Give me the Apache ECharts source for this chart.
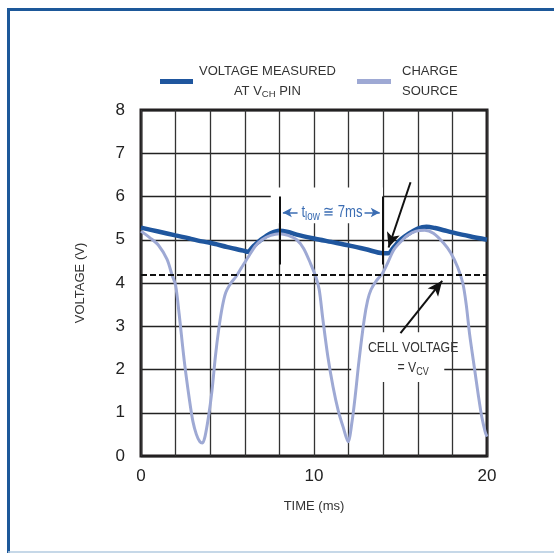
<!DOCTYPE html>
<html><head><meta charset="utf-8">
<script src="https://cdn.jsdelivr.net/npm/echarts@6/dist/echarts.min.js"></script>
<style>html,body{margin:0;padding:0;background:#fff}#c{width:554px;height:553px}</style>
</head><body><div id="c"></div>
<script>
// ---- data (time in ms, voltage in V) ----
const vchTime = [0, 1, 2, 2.8, 3.3, 4, 5, 6, 6.15, 6.5, 7.0, 7.5, 8.0, 8.5, 9, 10, 11, 12, 13, 14, 14.3, 14.6, 15, 15.5, 16, 16.5, 17, 17.5, 18, 19, 20];
const vchVolt = [5.28, 5.19, 5.1, 5.03, 4.98, 4.93, 4.83, 4.74, 4.72, 4.85, 5.02, 5.15, 5.21, 5.18, 5.12, 5.03, 4.95, 4.87, 4.78, 4.69, 4.69, 4.82, 5.0, 5.15, 5.26, 5.3, 5.27, 5.22, 5.17, 5.08, 5.0];
const srcTime = [0, 0.5, 1.0, 1.5, 1.8, 2.0, 2.2, 2.5, 2.8, 3.0, 3.2, 3.4, 3.55, 3.7, 3.9, 4.1, 4.3, 4.5, 4.7, 4.9, 5.2, 5.5, 5.8, 6.2, 6.6, 7.0, 7.5, 8.0, 8.5, 9.0, 9.4, 9.8, 10.1, 10.3, 10.5, 10.8, 11.1, 11.4, 11.7, 11.97, 12.2, 12.4, 12.6, 12.9, 13.1, 13.3, 13.6, 13.95, 14.3, 14.6, 15.0, 15.4, 15.9, 16.4, 16.9, 17.5, 17.9, 18.3, 18.6, 18.8, 19.0, 19.25, 19.5, 19.7, 19.9, 20];
const srcVolt = [5.2, 5.05, 4.88, 4.55, 4.18, 3.95, 3.3, 2.2, 1.3, 0.8, 0.5, 0.33, 0.3, 0.45, 0.9, 1.5, 2.3, 2.95, 3.45, 3.78, 4.0, 4.15, 4.35, 4.6, 4.85, 5.0, 5.1, 5.14, 5.1, 5.0, 4.8, 4.45, 4.15, 3.85, 3.2, 2.3, 1.6, 1.05, 0.65, 0.33, 0.8, 1.45, 2.2, 3.15, 3.6, 3.85, 4.05, 4.22, 4.5, 4.76, 4.95, 5.1, 5.2, 5.22, 5.15, 4.92, 4.7, 4.37, 4.0, 3.5, 2.8, 2.1, 1.4, 0.9, 0.55, 0.45];
const xTickLabels = ['0', '10', '20'];
const yTickLabels = ['0', '1', '2', '3', '4', '5', '6', '7', '8'];
const cellVoltage = 4.2;
const tlowMarks = [8, 14];

const FONT = "'Liberation Sans Narrow', 'Liberation Sans', Arial, sans-serif";
const TXT = '#333';
const DARK = '#1f569e';
const LIGHT = '#9ea9d4';
const NOTE = '#3b6db3';

const chart = echarts.init(document.getElementById('c'), null, {renderer: 'canvas'});
const zip = (a, b) => a.map((v, i) => [v, b[i]]);

chart.setOption({
  animation: false,
  backgroundColor: '#fff',
  grid: {left: 141, top: 110, width: 346, height: 346, show: true, borderColor: '#231f20', borderWidth: 3, backgroundColor: 'transparent'},
  legend: [
    {data: ['VOLTAGE MEASURED AT VCH PIN'], left: 160, top: 65, padding: 0, icon: 'rect', itemWidth: 33, itemHeight: 5,
     selectedMode: false,
     formatter: () => '{a|VOLTAGE MEASURED}\n{a|AT V}{s|CH}{a| PIN}',
     textStyle: {padding: [0, 0, 0, 1], rich: {
       a: {align: 'center', fontSize: 13, lineHeight: 20, fontFamily: FONT, color: TXT},
       s: {align: 'center', fontSize: 9.5, lineHeight: 20, fontFamily: FONT, color: TXT, padding: [6, 0, 0, 0]}}}},
    {data: ['CHARGE SOURCE'], left: 357, top: 65, padding: 0, icon: 'rect', itemWidth: 34, itemHeight: 5,
     selectedMode: false,
     formatter: () => '{a|CHARGE}\n{a|SOURCE}',
     textStyle: {padding: [0, 0, 0, 6], rich: {
       a: {align: 'center', fontSize: 13, lineHeight: 20, fontFamily: FONT, color: TXT}}}}
  ],
  xAxis: {
    type: 'value', min: 0, max: 20, interval: 2,
    name: 'TIME (ms)', nameLocation: 'middle', nameGap: 44,
    nameTextStyle: {fontFamily: FONT, fontSize: 13, color: TXT},
    axisLine: {show: false}, axisTick: {show: false},
    axisLabel: {margin: 12, fontFamily: FONT, fontSize: 17, color: '#222',
      formatter: v => xTickLabels.includes(String(v)) ? String(v) : ''},
    splitLine: {show: true, lineStyle: {color: '#333', width: 1.3}}
  },
  yAxis: {
    type: 'value', min: 0, max: 8, interval: 1,
    name: 'VOLTAGE (V)', nameLocation: 'middle', nameGap: 54,
    nameTextStyle: {fontFamily: FONT, fontSize: 13, color: TXT},
    axisLine: {show: false}, axisTick: {show: false},
    axisLabel: {margin: 16, fontFamily: FONT, fontSize: 17, color: '#222',
      formatter: v => yTickLabels[v] !== undefined ? yTickLabels[v] : ''},
    splitLine: {show: true, lineStyle: {color: '#222', width: 1.3}}
  },
  series: [
    {name: 'VOLTAGE MEASURED AT VCH PIN', type: 'line', data: zip(vchTime, vchVolt), showSymbol: false, smooth: 0.3,
     itemStyle: {color: DARK}, lineStyle: {color: DARK, width: 4.5}, z: 3,
     markLine: {silent: true, animation: false, label: {show: false},
       data: [
         [{coord: [15.58, 6.33], symbol: 'none'}, {coord: [14.31, 4.82], symbol: 'arrow', symbolSize: [10, 15]}],
         [{coord: [15.0, 2.84], symbol: 'none'}, {coord: [17.41, 4.05], symbol: 'arrow', symbolSize: [10, 15]}]
       ].map(d => { d.forEach(p => p.lineStyle = {color: '#111', width: 2, type: 'solid'}); return d; })
     }},
    {name: 'CHARGE SOURCE', type: 'line', data: zip(srcTime, srcVolt), showSymbol: false, smooth: 0.3,
     itemStyle: {color: LIGHT}, lineStyle: {color: LIGHT, width: 3}, z: 4,
     markLine: {silent: true, animation: false, label: {show: false}, symbol: 'none',
       data: [
         {yAxis: cellVoltage, lineStyle: {color: '#111', width: 2, type: [6, 3]}},
         ...tlowMarks.map(t => [{coord: [t, 6.0], lineStyle: {color: '#111', width: 2, type: 'solid'}}, {coord: [t, 4.43]}]),
         [{coord: [9.05, 5.63], symbol: 'none', lineStyle: {color: NOTE, width: 1.5, type: 'solid'}}, {coord: [8.2, 5.63], symbol: 'arrow', symbolSize: [7, 9]}],
         [{coord: [12.92, 5.63], symbol: 'none', lineStyle: {color: NOTE, width: 1.5, type: 'solid'}}, {coord: [13.8, 5.63], symbol: 'arrow', symbolSize: [7, 9]}]
       ]}}
  ]
});

function px(t, v) { return chart.convertToPixel({gridIndex: 0}, [t, v]); }
function boxFrom(t0, v0, t1, v1) {
  const a = px(t0, v0), b = px(t1, v1);
  return {x: Math.min(a[0], b[0]), y: Math.min(a[1], b[1]), width: Math.abs(b[0] - a[0]), height: Math.abs(b[1] - a[1])};
}
const tl = px(11.04, 5.63);
const cv1 = px(15.73, 2.49);
const cv2 = px(15.73, 2.03);
chart.setOption({
  graphic: [
    {type: 'line', shape: {x1: 8, y1: 9.5, x2: 554, y2: 9.5}, style: {stroke: '#1d5899', lineWidth: 3}, silent: true},
    {type: 'line', shape: {x1: 8.5, y1: 8, x2: 8.5, y2: 553}, style: {stroke: '#1d5899', lineWidth: 3}, silent: true},
    {type: 'line', shape: {x1: 8, y1: 552, x2: 554, y2: 552}, style: {stroke: '#b3cbe0', lineWidth: 1.5}, silent: true},
    {type: 'rect', shape: boxFrom(7.5, 6.21, 13.98, 5.38), style: {fill: '#fff'}, z: 1, silent: true},
    {type: 'rect', shape: boxFrom(12.15, 2.86, 17.53, 1.71), style: {fill: '#fff'}, z: 1, silent: true},
    {type: 'text', x: tl[0], y: tl[1], scaleX: 0.82, z: 10, silent: true,
     style: {text: '{t|t}{s|low}{t| \u2245 7ms}', align: 'center', verticalAlign: 'middle',
       rich: {t: {fontFamily: FONT, fontSize: 16, fill: NOTE, color: NOTE},
              s: {fontFamily: FONT, fontSize: 12, fill: NOTE, color: NOTE, padding: [8, 0, 0, 0]}}}},
    {type: 'text', x: cv1[0], y: cv1[1], scaleX: 0.82, z: 10, silent: true,
     style: {text: 'CELL VOLTAGE', align: 'center', verticalAlign: 'middle', fontFamily: FONT, fontSize: 15, fill: TXT}},
    {type: 'text', x: cv2[0], y: cv2[1], scaleX: 0.82, z: 10, silent: true,
     style: {text: '{a|= V}{s|CV}', align: 'center', verticalAlign: 'middle',
       rich: {a: {fontFamily: FONT, fontSize: 15, fill: TXT, color: TXT},
              s: {fontFamily: FONT, fontSize: 11, fill: TXT, color: TXT, padding: [7, 0, 0, 0]}}}}
  ]
});
</script></body></html>
